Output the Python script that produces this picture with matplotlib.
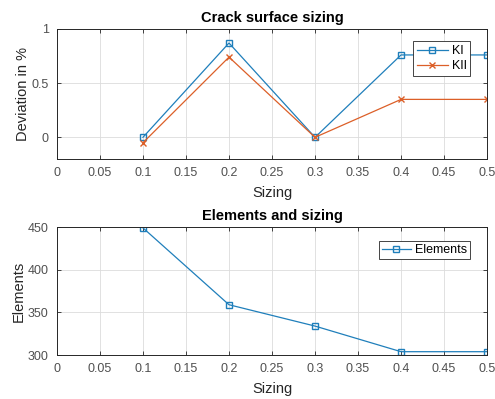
import matplotlib.pyplot as plt
import numpy as np

plt.rcParams['font.family'] = ['Liberation Sans', 'DejaVu Sans']

sizing = [0.1, 0.2, 0.3, 0.4, 0.5]
dev_ki = [0.0, 0.87, 0.0, 0.76, 0.76]
dev_kii = [-0.05, 0.74, 0.0, 0.35, 0.35]
elements = [449, 359, 334, 304, 304]

xticks = [0, 0.05, 0.1, 0.15, 0.2, 0.25, 0.3, 0.35, 0.4, 0.45, 0.5]
xticklabels = ['0', '0.05', '0.1', '0.15', '0.2', '0.25', '0.3', '0.35', '0.4', '0.45', '0.5']

blue = '#1f7fbb'
orange = '#dc5f28'
axcol = '#262626'

fig = plt.figure(figsize=(4.95, 3.99), dpi=100)
ax1 = fig.add_axes([0.115, 0.6015, 0.869, 0.326])
ax2 = fig.add_axes([0.115, 0.110, 0.869, 0.321])


def matlab_style(ax):
    ax.set_xlim(0, 0.5)
    ax.set_xticks(xticks)
    ax.set_xticklabels(xticklabels)
    ax.grid(True, color='#dcdcdc', linewidth=0.6)
    ax.set_axisbelow(True)
    ax.tick_params(direction='in', top=True, right=True, length=3,
                   colors=axcol, labelsize=9, width=0.6, pad=6)
    for tl in ax.get_xticklabels() + ax.get_yticklabels():
        tl.set_color('#505050')
    for s in ax.spines.values():
        s.set_color(axcol)
        s.set_linewidth(0.7)


# deviation plot
ax1.plot(sizing, dev_ki, color=blue, marker='s', markerfacecolor='none',
         markersize=5, linewidth=0.9, label='KI')
ax1.plot(sizing, dev_kii, color=orange, marker='x', markersize=5,
         linewidth=0.9, label='KII')
matlab_style(ax1)
ax1.set_ylim(-0.2, 1)
ax1.set_yticks([0, 0.5, 1])
ax1.set_yticklabels(['0', '0.5', '1'])
ax1.set_title('Crack surface sizing', fontsize=10.5, fontweight='bold', pad=5)
ax1.set_xlabel('Sizing', fontsize=10.5, color=axcol, labelpad=5)
ax1.set_ylabel('Deviation in %', fontsize=10.5, color=axcol, labelpad=1)
leg1 = ax1.legend(loc='upper right', bbox_to_anchor=(0.961, 0.905), fontsize=9,
                  numpoints=1, handlelength=2.5, handletextpad=0.3,
                  borderpad=0.3, labelspacing=0.25, borderaxespad=0,
                  fancybox=False, framealpha=1, edgecolor=axcol)
leg1.get_frame().set_linewidth(0.6)

# element count plot
ax2.plot(sizing, elements, color=blue, marker='s', markerfacecolor='none',
         markersize=5, linewidth=0.9, label='Elements')
matlab_style(ax2)
ax2.set_ylim(300, 450)
ax2.set_yticks([300, 350, 400, 450])
ax2.set_title('Elements and sizing', fontsize=10.5, fontweight='bold', pad=5)
ax2.set_xlabel('Sizing', fontsize=10.5, color=axcol, labelpad=5)
ax2.set_ylabel('Elements', fontsize=10.5, color=axcol, labelpad=1)
leg2 = ax2.legend(loc='upper right', bbox_to_anchor=(0.96, 0.89), fontsize=9,
                  numpoints=1, handlelength=2.3, handletextpad=0.3,
                  borderpad=0.25, borderaxespad=0, fancybox=False,
                  framealpha=1, edgecolor=axcol)
leg2.get_frame().set_linewidth(0.6)

fig.savefig('out.png', dpi=100)
